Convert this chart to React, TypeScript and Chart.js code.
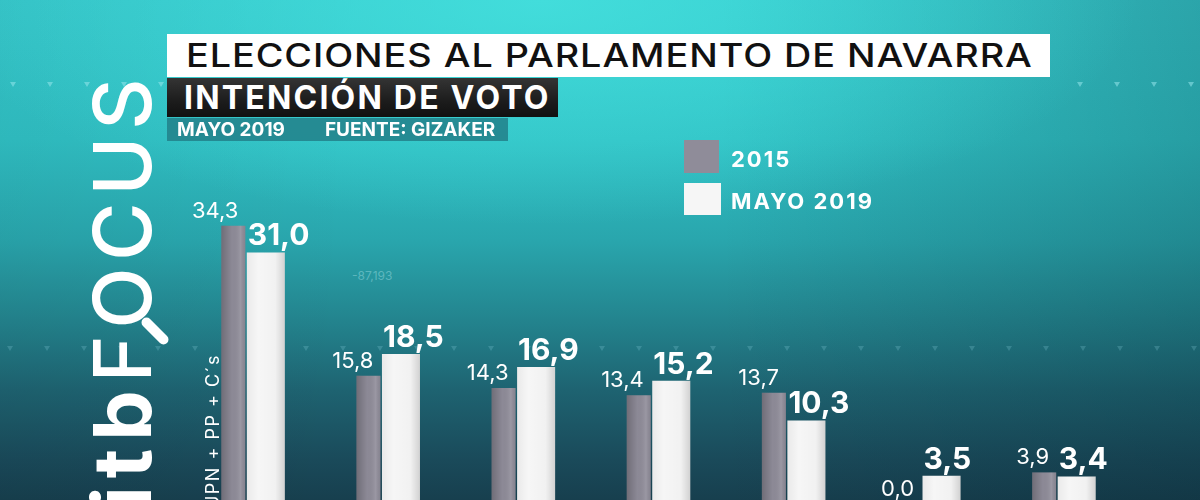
import React, { useEffect, useRef } from "react";
import { Chart, registerables } from "chart.js";

Chart.register(...registerables);

// ---------- data ----------
const categories: string[] = ["UPN + PP + C´s", "", "", "", "", "", ""];
const values2015: number[] = [34.3, 15.8, 14.3, 13.4, 13.7, 0.0, 3.9];
const valuesMayo2019: number[] = [31.0, 18.5, 16.9, 15.2, 10.3, 3.5, 3.4];
const seriesNames: string[] = ["2015", "MAYO 2019"];
const seriesColors: string[] = ["#8f8c99", "#f6f6f6"];

const TITLE = "ELECCIONES AL PARLAMENTO DE NAVARRA";
const SUBTITLE = "INTENCIÓN DE VOTO";
const DATE_TEXT = "MAYO 2019";
const SOURCE_TEXT = "FUENTE: GIZAKER";
const DECO_NUMBER = "-87,193";

const FONT = "Inter, 'Noto Sans', 'DejaVu Sans', sans-serif";
const fmt = (v: number) => v.toFixed(1).replace(".", ",");

// ---------- plugins ----------
const barShadePlugin = {
  id: "barShade",
  afterDatasetsDraw(chart: any) {
    const { ctx } = chart;
    ctx.save();
    chart.data.datasets.forEach((_ds: any, di: number) => {
      const meta = chart.getDatasetMeta(di);
      meta.data.forEach((bar: any) => {
        const { x, y, base, width } = bar.getProps(["x", "y", "base", "width"], true);
        if (base - y <= 0) return;
        const l = x - width / 2;
        const r = x + width / 2;
        const g = ctx.createLinearGradient(l, 0, r, 0);
        if (di === 0) {
          g.addColorStop(0, "rgba(0,0,0,0.22)");
          g.addColorStop(0.45, "rgba(0,0,0,0.02)");
          g.addColorStop(0.8, "rgba(255,255,255,0.10)");
          g.addColorStop(1, "rgba(0,0,0,0.06)");
        } else {
          g.addColorStop(0, "rgba(0,0,0,0.05)");
          g.addColorStop(0.3, "rgba(0,0,0,0)");
          g.addColorStop(0.75, "rgba(0,0,0,0.02)");
          g.addColorStop(1, "rgba(0,0,0,0.15)");
        }
        ctx.fillStyle = g;
        ctx.fillRect(l, y, width, base - y);
      });
    });
    ctx.restore();
  },
};

const valueLabelPlugin = {
  id: "valueLabels",
  afterDatasetsDraw(chart: any) {
    const { ctx } = chart;
    ctx.save();
    ctx.fillStyle = "#ffffff";
    ctx.textBaseline = "alphabetic";
    chart.data.datasets.forEach((ds: any, di: number) => {
      const meta = chart.getDatasetMeta(di);
      meta.data.forEach((bar: any, i: number) => {
        const { x, y, width } = bar.getProps(["x", "y", "width"], true);
        const txt = fmt(ds.data[i]);
        if (di === 0) {
          ctx.font = `400 22px ${FONT}`;
          ctx.textAlign = "right";
          ctx.fillText(txt, x + 5, y - 8);
        } else {
          ctx.font = `700 30px ${FONT}`;
          ctx.textAlign = "left";
          ctx.fillText(txt, x - width / 2 + 1, y - 7);
        }
      });
    });
    ctx.restore();
  },
};

const categoryLabelPlugin = {
  id: "categoryLabels",
  afterDatasetsDraw(chart: any) {
    const { ctx } = chart;
    const meta = chart.getDatasetMeta(0);
    const yScale = chart.scales.y;
    const zero = yScale.getPixelForValue(0);
    ctx.save();
    ctx.fillStyle = "#ffffff";
    ctx.font = `400 18px ${FONT}`;
    (ctx as any).letterSpacing = "1.5px";
    ctx.textAlign = "left";
    ctx.textBaseline = "alphabetic";
    chart.data.labels.forEach((lab: string, i: number) => {
      if (!lab) return;
      const bar = meta.data[i];
      const { x, width } = bar.getProps(["x", "width"], true);
      ctx.save();
      ctx.translate(x - width / 2 - 2, zero + 5);
      ctx.rotate(-Math.PI / 2);
      ctx.fillText(lab, 0, 0);
      ctx.restore();
    });
    ctx.restore();
  },
};

const legendPlugin = {
  id: "customLegend",
  afterDraw(chart: any) {
    const { ctx } = chart;
    ctx.save();
    const boxes = [
      { x: 684, y: 140, w: 35, h: 33 },
      { x: 684, y: 183, w: 37, h: 32 },
    ];
    chart.data.datasets.forEach((ds: any, i: number) => {
      const b = boxes[i];
      ctx.fillStyle = ds.backgroundColor;
      ctx.fillRect(b.x, b.y, b.w, b.h);
      ctx.fillStyle = "#ffffff";
      ctx.font = `700 22px ${FONT}`;
      (ctx as any).letterSpacing = "2px";
      ctx.textAlign = "left";
      ctx.textBaseline = "alphabetic";
      ctx.fillText(ds.label, 731, b.y + b.h - 6);
    });
    ctx.restore();
  },
};

export default function App() {
  const canvasRef = useRef<HTMLCanvasElement | null>(null);

  useEffect(() => {
    if (!canvasRef.current) return;
    const chart = new Chart(canvasRef.current, {
      type: "bar",
      data: {
        labels: categories,
        datasets: [
          {
            label: seriesNames[0],
            data: values2015,
            backgroundColor: seriesColors[0],
            borderWidth: 0,
            barPercentage: 0.74,
            categoryPercentage: 0.481,
          },
          {
            label: seriesNames[1],
            data: valuesMayo2019,
            backgroundColor: seriesColors[1],
            borderWidth: 0,
            barPercentage: 1.17,
            categoryPercentage: 0.481,
          },
        ],
      },
      options: {
        animation: false,
        responsive: true,
        maintainAspectRatio: false,
        layout: { padding: { left: 182, right: 72, top: 0, bottom: 0 } },
        plugins: {
          legend: { display: false },
          tooltip: { enabled: false },
          title: { display: false },
        },
        scales: {
          x: { display: false, offset: true, grid: { display: false } },
          y: { display: false, min: 0.5, max: 62.1, grid: { display: false } },
        },
      },
      plugins: [barShadePlugin, valueLabelPlugin, categoryLabelPlugin, legendPlugin],
    });
    return () => chart.destroy();
  }, []);

  const triTop = [13, 50, 87, 124, 161, 1080, 1117, 1154, 1191];
  const triMid: number[] = [];
  for (let i = 0; i < 33; i++) triMid.push(10 + i * 37);

  return (
    <div
      style={{
        position: "fixed",
        left: 0,
        top: 0,
        width: 1200,
        height: 500,
        overflow: "hidden",
        fontFamily: FONT,
        background:
          "radial-gradient(ellipse 50% 45% at 45% 0%, rgba(70,228,224,0.75) 0%, rgba(70,228,224,0) 100%)," +
          "linear-gradient(90deg, rgba(0,0,0,0.04) 0%, rgba(0,0,0,0) 30%, rgba(0,0,0,0) 60%, rgba(0,25,35,0.2) 100%)," +
          "linear-gradient(180deg, #36c8cc 0%, #30bfc3 28%, #29a6ad 48%, #23848e 64%, #1e6371 78%, #1a4a5a 92%, #173f4e 100%)",
      }}
    >
      {triTop.map((x, i) => (
        <div
          key={"t" + i}
          style={{
            position: "absolute",
            left: x - 3,
            top: 82,
            width: 0,
            height: 0,
            borderLeft: "3px solid transparent",
            borderRight: "3px solid transparent",
            borderTop: "5px solid rgba(150,230,235,0.55)",
          }}
        />
      ))}
      {triMid.map((x, i) => (
        <div
          key={"m" + i}
          style={{
            position: "absolute",
            left: x - 3,
            top: 346,
            width: 0,
            height: 0,
            borderLeft: "3px solid transparent",
            borderRight: "3px solid transparent",
            borderTop: "5px solid rgba(150,220,230,0.22)",
          }}
        />
      ))}
      <div
        style={{
          position: "absolute",
          left: 352,
          top: 268,
          fontSize: 12,
          color: "rgba(180,232,238,0.4)",
          whiteSpace: "nowrap",
        }}
      >
        {DECO_NUMBER}
      </div>

      {/* logo */}
      <div
        style={{
          position: "absolute",
          left: 82,
          top: 508,
          transformOrigin: "0 0",
          transform: "rotate(-90deg)",
          whiteSpace: "nowrap",
          color: "#ffffff",
          fontSize: 80,
          lineHeight: "80px",
        }}
      >
        <span style={{ fontWeight: 700, letterSpacing: 8 }}>itb</span>
        <span style={{ fontWeight: 500, letterSpacing: 6.5 }}>
          F
          <span style={{ position: "relative", display: "inline-block" }}>
            O
            <span
              style={{
                position: "absolute",
                left: -19,
                top: 68,
                width: 34,
                height: 10,
                borderRadius: 5,
                background: "#ffffff",
                transform: "rotate(-45deg)",
              }}
            />
          </span>
          CUS
        </span>
      </div>

      <div style={{ position: "absolute", left: 0, top: 0, width: 1200, height: 500 }}>
        <canvas ref={canvasRef} />
      </div>

      {/* title boxes */}
      <div
        style={{
          position: "absolute",
          left: 167,
          top: 34,
          width: 883,
          height: 43,
          background: "#ffffff",
          display: "flex",
          alignItems: "center",
          boxSizing: "border-box",
          paddingLeft: 19,
        }}
      >
        <span
          style={{
            display: "inline-block",
            fontSize: 32,
            fontWeight: 500,
            color: "#111111",
            letterSpacing: 0.8,
            whiteSpace: "nowrap",
            lineHeight: 1,
            transformOrigin: "0 50%",
            transform: "scaleX(1.18)",
          }}
        >
          {TITLE}
        </span>
      </div>
      <div
        style={{
          position: "absolute",
          left: 167,
          top: 78,
          width: 391,
          height: 39,
          background: "linear-gradient(180deg, #343434 0%, #1c1c1c 60%, #111111 100%)",
          display: "flex",
          alignItems: "center",
          boxSizing: "border-box",
          paddingLeft: 17,
        }}
      >
        <span
          style={{
            fontSize: 32,
            fontWeight: 700,
            color: "#ffffff",
            letterSpacing: 2.2,
            whiteSpace: "nowrap",
            lineHeight: 1,
          }}
        >
          {SUBTITLE}
        </span>
      </div>
      <div
        style={{
          position: "absolute",
          left: 167,
          top: 118,
          width: 341,
          height: 23,
          background: "rgba(34,128,138,0.85)",
          display: "flex",
          alignItems: "center",
          boxSizing: "border-box",
          paddingLeft: 10,
          color: "#ffffff",
          fontWeight: 700,
          fontSize: 19,
          lineHeight: 1,
          whiteSpace: "nowrap",
        }}
      >
        <span>{DATE_TEXT}</span>
        <span style={{ marginLeft: 40 }}>{SOURCE_TEXT}</span>
      </div>
    </div>
  );
}
